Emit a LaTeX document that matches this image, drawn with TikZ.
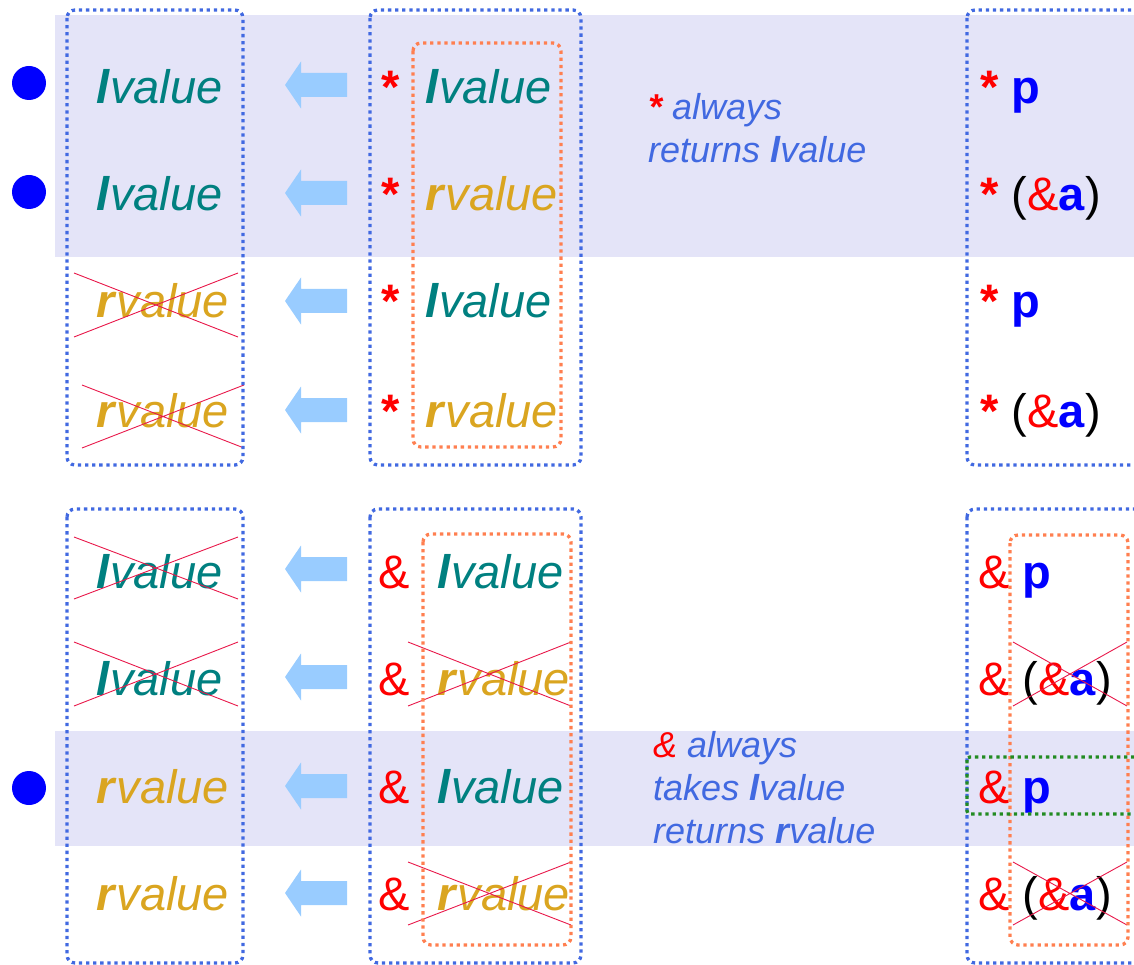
\documentclass[tikz,border=0pt]{standalone}
\usepackage{fontspec}
\setmainfont{Liberation Sans}
\definecolor{lvc}{HTML}{008080}
\definecolor{rvc}{HTML}{DAA520}
\definecolor{bandc}{HTML}{E4E4F8}
\definecolor{boxblue}{HTML}{4169E1}
\definecolor{coralc}{HTML}{FF7F50}
\definecolor{arrc}{HTML}{99CCFF}
\definecolor{crossred}{HTML}{E8184A}
\definecolor{grnc}{HTML}{228B22}
\definecolor{dotblue}{HTML}{0000FF}
\newcommand{\lvword}{\textcolor{lvc}{\textbf{\textit{l}}\textit{value}}}
\newcommand{\rvword}{\textcolor{rvc}{\textbf{\textit{r}}\textit{value}}}
\newcommand{\rstar}{\textcolor{red}{\textbf{*}}}
\newcommand{\ramp}{\textcolor{red}{\&}}
\newcommand{\pword}{\textcolor{dotblue}{\textbf{p}}}
\newcommand{\aword}{(\ramp\textcolor{dotblue}{\textbf{a}})}
\tikzset{
  dotbox/.style={draw=boxblue, line width=3.3pt, dash pattern=on 3.3pt off 3.8pt, rounded corners=8pt},
  orbox/.style={dotbox, draw=coralc},
  grbox/.style={dotbox, draw=grnc, rounded corners=3pt},
  txt/.style={inner sep=0pt, anchor=base west, font=\fontsize{47}{56}\selectfont},
  note/.style={inner sep=0pt, anchor=base west, font=\fontsize{36}{43}\selectfont\itshape, text=boxblue, align=left},
  xline/.style={draw=crossred, line width=0.9pt},
  bigdot/.style={fill=dotblue, circle, inner sep=0pt, minimum size=34pt}
}
\begin{document}
\begin{tikzpicture}[x=1pt,y=-1pt]
\useasboundingbox (0,0) rectangle (1134,965);
\clip (0,0) rectangle (1134,965);
% bands
\fill[bandc] (55,15) rectangle (1134,257);
\fill[bandc] (55,731) rectangle (1134,846);
% dots
\node[bigdot] (d1) at (29,83) {};
\node[bigdot] (d2) at (29,192) {};
\node[bigdot] (d3) at (29,788) {};
% arrows
\foreach \yy [count=\i] in {85,193,301,410,569,677,786,893} {
  \fill[arrc] (285,\yy) -- (301,\yy-23.5) -- (301,\yy-12) -- (347,\yy-12)
     -- (347,\yy+12) -- (301,\yy+12) -- (301,\yy+23.5) -- cycle;
}
% left column
\node[txt] (l1) at (96,104) {\lvword};
\node[txt] (l2) at (96,211) {\lvword};
\node[txt] (l3) at (96,318) {\rvword};
\node[txt] (l4) at (96,427) {\rvword};
\node[txt] (l5) at (96,588) {\lvword};
\node[txt] (l6) at (96,695) {\lvword};
\node[txt] (l7) at (96,803) {\rvword};
\node[txt] (l8) at (96,910) {\rvword};
% middle column
\node[txt] (s1) at (381,104) {\rstar};
\node[txt] (s2) at (381,211) {\rstar};
\node[txt] (s3) at (381,318) {\rstar};
\node[txt] (s4) at (381,427) {\rstar};
\node[txt] (m1) at (425,104) {\lvword};
\node[txt] (m2) at (425,211) {\rvword};
\node[txt] (m3) at (425,318) {\lvword};
\node[txt] (m4) at (425,427) {\rvword};
\node[txt] (a5) at (378,588) {\ramp};
\node[txt] (a6) at (378,695) {\ramp};
\node[txt] (a7) at (378,803) {\ramp};
\node[txt] (a8) at (378,910) {\ramp};
\node[txt] (m5) at (437,588) {\lvword};
\node[txt] (m6) at (437,695) {\rvword};
\node[txt] (m7) at (437,803) {\lvword};
\node[txt] (m8) at (437,910) {\rvword};
% right column
\node[txt] (r1) at (980,104) {\rstar\ \pword};
\node[txt] (r2) at (980,211) {\rstar\ \aword};
\node[txt] (r3) at (980,318) {\rstar\ \pword};
\node[txt] (r4) at (980,427) {\rstar\ \aword};
\node[txt] (r5) at (978,588) {\ramp\ \pword};
\node[txt] (r6) at (978,695) {\ramp\ \aword};
\node[txt] (r7) at (978,803) {\ramp\ \pword};
\node[txt] (r8) at (978,910) {\ramp\ \aword};
% notes (base anchor = last line)
\node[note] (n1) at (648,163) {\rstar{} always\\returns \textbf{l}value};
\node[note] (n2) at (653,843) {\ramp{} always\\takes \textbf{l}value\\returns \textbf{r}value};
% crosses
\draw[xline] (74,273) -- (238,337) (74,337) -- (238,273);
\draw[xline] (82,385) -- (244,448) (82,448) -- (244,385);
\draw[xline] (74,537) -- (238,599) (74,599) -- (238,537);
\draw[xline] (74,642) -- (238,706) (74,706) -- (238,642);
\draw[xline] (408,642) -- (571,706) (408,706) -- (571,642);
\draw[xline] (408,862) -- (571,925) (408,925) -- (571,862);
\draw[xline] (1013,642) -- (1127,706) (1013,706) -- (1127,642);
\draw[xline] (1013,862) -- (1127,925) (1013,925) -- (1127,862);
% boxes
\draw[dotbox] (67,10) rectangle (243,465);
\draw[dotbox] (67,509) rectangle (243,963);
\draw[dotbox] (370,10) rectangle (581,465);
\draw[dotbox] (370,509) rectangle (581,963);
\draw[dotbox] (967,10) rectangle (1150,465);
\draw[dotbox] (967,509) rectangle (1150,963);
\draw[orbox] (413,43) rectangle (561,447);
\draw[orbox] (423,534) rectangle (571,945);
\draw[orbox] (1010,535) rectangle (1128,945);
\draw[grbox] (967,757) rectangle (1150,814);
\end{tikzpicture}
\end{document}
